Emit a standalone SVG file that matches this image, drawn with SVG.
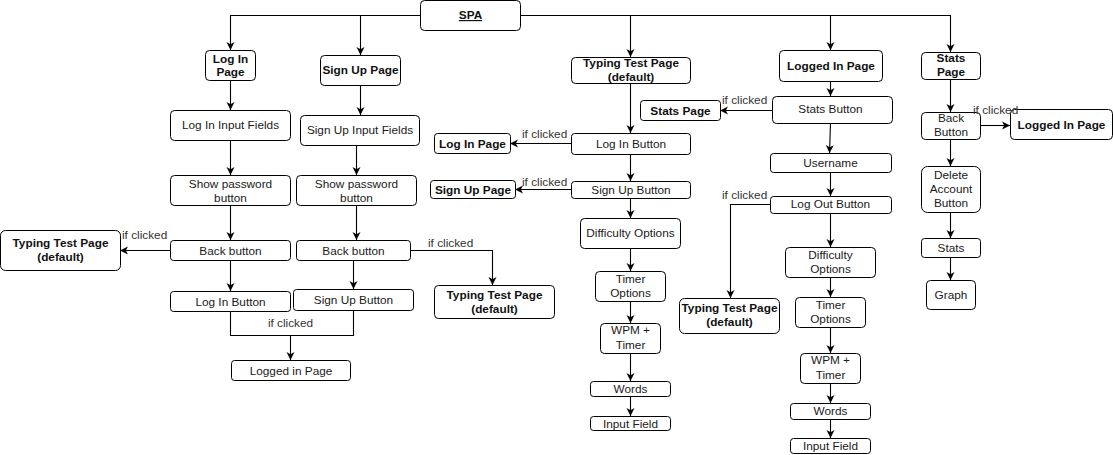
<svg xmlns="http://www.w3.org/2000/svg" width="1113" height="455" viewBox="0 0 1113 455">
<defs>
<style>
.n{fill:#fff;stroke:#000;stroke-width:1}
.t{font-family:"Liberation Sans",Arial,sans-serif;font-size:11.8px;fill:#1a1a1a;text-anchor:middle}
.b{font-weight:bold;fill:#111}
.l{font-family:"Liberation Sans",Arial,sans-serif;font-size:11.8px;fill:#333}
.c{fill:none;stroke:#000;stroke-width:1.1}
</style>
<marker id="a" markerUnits="userSpaceOnUse" markerWidth="9" markerHeight="9" refX="8" refY="4.5" orient="auto">
<path d="M0,0.5 L8,4.5 L0,8.5 L2.2,4.5 z" fill="#000"/>
</marker>
</defs>
<rect width="1113" height="455" fill="#fff"/>

<g id="spa"><rect class="n" x="420.5" y="0.5" width="100" height="30" rx="4"/><text class="t b" x="470.5" y="19" text-decoration="underline">SPA</text></g>

<g id="login-page"><rect class="n" x="205.5" y="50.5" width="50" height="30" rx="4"/><text class="t b" x="230.5" y="62.5">Log In</text><text class="t b" x="230.5" y="76">Page</text></g>
<g id="signup-page"><rect class="n" x="320.5" y="55.5" width="80" height="30" rx="4" stroke="#555"/><text class="t b" x="360.5" y="74">Sign Up Page</text></g>
<g id="login-fields"><rect class="n" x="170.5" y="110.5" width="120" height="30" rx="4"/><text class="t" x="230.5" y="129">Log In Input Fields</text></g>
<g id="signup-fields"><rect class="n" x="300.5" y="115.5" width="119" height="30" rx="4" stroke="#444"/><text class="t" x="360" y="134">Sign Up Input Fields</text></g>
<g id="showpw-l"><rect class="n" x="170.5" y="175.5" width="120" height="30" rx="4"/><text class="t" x="230.5" y="187.5">Show password</text><text class="t" x="230.5" y="201.5">button</text></g>
<g id="showpw-r"><rect class="n" x="296.5" y="175.5" width="120" height="30" rx="4"/><text class="t" x="356.5" y="187.5">Show password</text><text class="t" x="356.5" y="201.5">button</text></g>
<g id="back-l"><rect class="n" x="170.5" y="240.5" width="120" height="20" rx="3"/><text class="t" x="230.5" y="254.5">Back button</text></g>
<g id="back-r"><rect class="n" x="296.5" y="240.5" width="114" height="20" rx="3"/><text class="t" x="353.5" y="254.5">Back button</text></g>
<g id="typing-l"><rect class="n" x="0.5" y="230.5" width="120" height="40" rx="5"/><text class="t b" x="60.5" y="247">Typing Test Page</text><text class="t b" x="60.5" y="261">(default)</text></g>
<g id="login-btn-l"><rect class="n" x="170.5" y="291.5" width="120" height="20" rx="3" stroke="#555"/><text class="t" x="230.5" y="305.5">Log In Button</text></g>
<g id="signup-btn-l"><rect class="n" x="293.5" y="289.5" width="120" height="21" rx="3"/><text class="t" x="353.5" y="303.5">Sign Up Button</text></g>
<g id="logged-in-l"><rect class="n" x="231.5" y="360.5" width="119" height="20" rx="3"/><text class="t" x="291" y="374.5" fill="#111">Logged in Page</text></g>
<g id="typing-mb"><rect class="n" x="434.5" y="285.5" width="120" height="33" rx="4" stroke="#444"/><text class="t b" x="494.5" y="298.5">Typing Test Page</text><text class="t b" x="494.5" y="312.5">(default)</text></g>

<g id="typing-m"><rect class="n" x="571.5" y="57.5" width="119" height="26" rx="4"/><text class="t b" x="631" y="67">Typing Test Page</text><text class="t b" x="631" y="81">(default)</text></g>
<g id="stats-page-m"><rect class="n" x="640.5" y="100.5" width="80" height="20" rx="3"/><text class="t b" x="680.5" y="114.5">Stats Page</text></g>
<g id="login-btn-m"><rect class="n" x="571.5" y="133.5" width="119" height="21" rx="3"/><text class="t" x="631" y="147.5">Log In Button</text></g>
<g id="login-page-m"><rect class="n" x="434.5" y="133.5" width="76" height="20" rx="3"/><text class="t b" x="472.5" y="147.5">Log In Page</text></g>
<g id="signup-btn-m"><rect class="n" x="571.5" y="181.5" width="119" height="17" rx="3"/><text class="t" x="631" y="193.5">Sign Up Button</text></g>
<g id="signup-page-m"><rect class="n" x="430.5" y="180.5" width="85" height="18" rx="3"/><text class="t b" x="473" y="193.5">Sign Up Page</text></g>
<g id="difficulty-m"><rect class="n" x="580.5" y="218.5" width="100" height="30" rx="4"/><text class="t" x="630.5" y="237">Difficulty Options</text></g>
<g id="timer-m"><rect class="n" x="595.5" y="271.5" width="70" height="30" rx="4" stroke="#555"/><text class="t" x="630.5" y="283">Timer</text><text class="t" x="630.5" y="297">Options</text></g>
<g id="wpm-m"><rect class="n" x="600.5" y="323.5" width="60" height="30" rx="4"/><text class="t" x="630.5" y="334">WPM +</text><text class="t" x="630.5" y="348.5">Timer</text></g>
<g id="words-m"><rect class="n" x="590.5" y="381.5" width="80" height="15" rx="3" stroke="#555"/><text class="t" x="630.5" y="393">Words</text></g>
<g id="input-m"><rect class="n" x="590.5" y="416.5" width="80" height="14" rx="3"/><text class="t" x="630.5" y="427.5">Input Field</text></g>

<g id="logged-in-r"><rect class="n" x="779.5" y="50.5" width="103" height="31" rx="4"/><text class="t b" x="831" y="69.5">Logged In Page</text></g>
<g id="stats-btn"><rect class="n" x="772.5" y="96.5" width="120" height="27" rx="4"/><text class="t" x="830.5" y="113">Stats Button</text></g>
<g id="username"><rect class="n" x="770.5" y="153.5" width="121" height="19" rx="3"/><text class="t" x="830.5" y="166.5">Username</text></g>
<g id="logout-btn"><rect class="n" x="770.5" y="196.5" width="121" height="17" rx="3"/><text class="t" x="830.5" y="208">Log Out Button</text></g>
<g id="typing-r"><rect class="n" x="679.5" y="298.5" width="100" height="35" rx="5" stroke="#444"/><text class="t b" x="729.5" y="312">Typing Test Page</text><text class="t b" x="729.5" y="326">(default)</text></g>
<g id="difficulty-r"><rect class="n" x="785.5" y="247.5" width="90" height="30" rx="4"/><text class="t" x="830.5" y="258.5">Difficulty</text><text class="t" x="830.5" y="273">Options</text></g>
<g id="timer-r"><rect class="n" x="795.5" y="297.5" width="70" height="30" rx="4"/><text class="t" x="830.5" y="308.5">Timer</text><text class="t" x="830.5" y="323">Options</text></g>
<g id="wpm-r"><rect class="n" x="800.5" y="353.5" width="60" height="30" rx="4"/><text class="t" x="830.5" y="364">WPM +</text><text class="t" x="830.5" y="378.5">Timer</text></g>
<g id="words-r"><rect class="n" x="790.5" y="403.5" width="80" height="16" rx="3"/><text class="t" x="830.5" y="415">Words</text></g>
<g id="input-r"><rect class="n" x="790.5" y="438.5" width="80" height="15" rx="3"/><text class="t" x="830.5" y="450">Input Field</text></g>

<g id="stats-page-r"><rect class="n" x="921.5" y="52.5" width="59" height="27" rx="4"/><text class="t b" x="951" y="61.5">Stats</text><text class="t b" x="951" y="75.5">Page</text></g>
<g id="back-btn-r"><rect class="n" x="921.5" y="112.5" width="59" height="27" rx="4"/><text class="t" x="951" y="122">Back</text><text class="t" x="951" y="136">Button</text></g>
<g id="logged-in-rr"><rect class="n" x="1010.5" y="109.5" width="102" height="30" rx="4"/><text class="t b" x="1061.5" y="128.5">Logged In Page</text></g>
<g id="delete-btn"><rect class="n" x="921.5" y="166.5" width="59" height="46" rx="6"/><text class="t" x="951" y="179">Delete</text><text class="t" x="951" y="193">Account</text><text class="t" x="951" y="207">Button</text></g>
<g id="stats"><rect class="n" x="921.5" y="238.5" width="59" height="19" rx="3"/><text class="t" x="951" y="252">Stats</text></g>
<g id="graph"><rect class="n" x="926.5" y="280.5" width="49" height="29" rx="4"/><text class="t" x="951" y="298.5">Graph</text></g>

<g id="connectors">
<path class="c" d="M420,15.5 H230.5 V50" marker-end="url(#a)"/>
<path class="c" d="M360.5,15.5 V55" marker-end="url(#a)"/>
<path class="c" d="M520,15.5 H950.5 V52" marker-end="url(#a)"/>
<path class="c" d="M630.5,15.5 V57" marker-end="url(#a)"/>
<path class="c" d="M830.5,15.5 V50" marker-end="url(#a)"/>
<path class="c" d="M230.5,80 V110" marker-end="url(#a)"/>
<path class="c" d="M230.5,140 V175" marker-end="url(#a)"/>
<path class="c" d="M230.5,205 V240" marker-end="url(#a)"/>
<path class="c" d="M230.5,260 V291" marker-end="url(#a)"/>
<path class="c" d="M170,250.5 H120" marker-end="url(#a)"/>
<path class="c" d="M360.5,85 V115" marker-end="url(#a)"/>
<path class="c" d="M356.5,145 V175" marker-end="url(#a)"/>
<path class="c" d="M356.5,205 V240" marker-end="url(#a)"/>
<path class="c" d="M353.5,260 V289" marker-end="url(#a)"/>
<path class="c" d="M410,250.5 H492.5 V285" marker-end="url(#a)"/>
<path class="c" d="M230.5,311 V335.5 H353.5 V310"/>
<path class="c" d="M290.5,335.5 V360" marker-end="url(#a)"/>
<path class="c" d="M630.5,83 V133" marker-end="url(#a)"/>
<path class="c" d="M571,143.5 H510" marker-end="url(#a)"/>
<path class="c" d="M630.5,154 V181" marker-end="url(#a)"/>
<path class="c" d="M571,189.5 H515" marker-end="url(#a)"/>
<path class="c" d="M630.5,198 V218" marker-end="url(#a)"/>
<path class="c" d="M630.5,248 V271" marker-end="url(#a)"/>
<path class="c" d="M630.5,301 V323" marker-end="url(#a)"/>
<path class="c" d="M630.5,353 V381" marker-end="url(#a)"/>
<path class="c" d="M630.5,396 V416" marker-end="url(#a)"/>
<path class="c" d="M830.5,81 V96" marker-end="url(#a)"/>
<path class="c" d="M772,110.5 H720" marker-end="url(#a)"/>
<path class="c" d="M830.5,123 L829.5,153" marker-end="url(#a)"/>
<path class="c" d="M830.5,172 V196" marker-end="url(#a)"/>
<path class="c" d="M770,204.5 H730.5 V298" marker-end="url(#a)"/>
<path class="c" d="M830.5,213 V247" marker-end="url(#a)"/>
<path class="c" d="M830.5,277 V297" marker-end="url(#a)"/>
<path class="c" d="M830.5,327 V353" marker-end="url(#a)"/>
<path class="c" d="M830.5,383 V403" marker-end="url(#a)"/>
<path class="c" d="M830.5,419 V438" marker-end="url(#a)"/>
<path class="c" d="M950.5,79 V112" marker-end="url(#a)"/>
<path class="c" d="M980,125.5 H1010" marker-end="url(#a)"/>
<path class="c" d="M950.5,139 V166" marker-end="url(#a)"/>
<path class="c" d="M950.5,212 V238" marker-end="url(#a)"/>
<path class="c" d="M950.5,257 V280" marker-end="url(#a)"/>
<text class="l" x="122" y="238.5">if clicked</text>
<text class="l" x="428" y="247">if clicked</text>
<text class="l" x="290.5" y="327" text-anchor="middle">if clicked</text>
<text class="l" x="522" y="137.5">if clicked</text>
<text class="l" x="522" y="185.5">if clicked</text>
<text class="l" x="722" y="104">if clicked</text>
<text class="l" x="722" y="199">if clicked</text>
<text class="l" x="973" y="113.5">if clicked</text>
</g>
</svg>
